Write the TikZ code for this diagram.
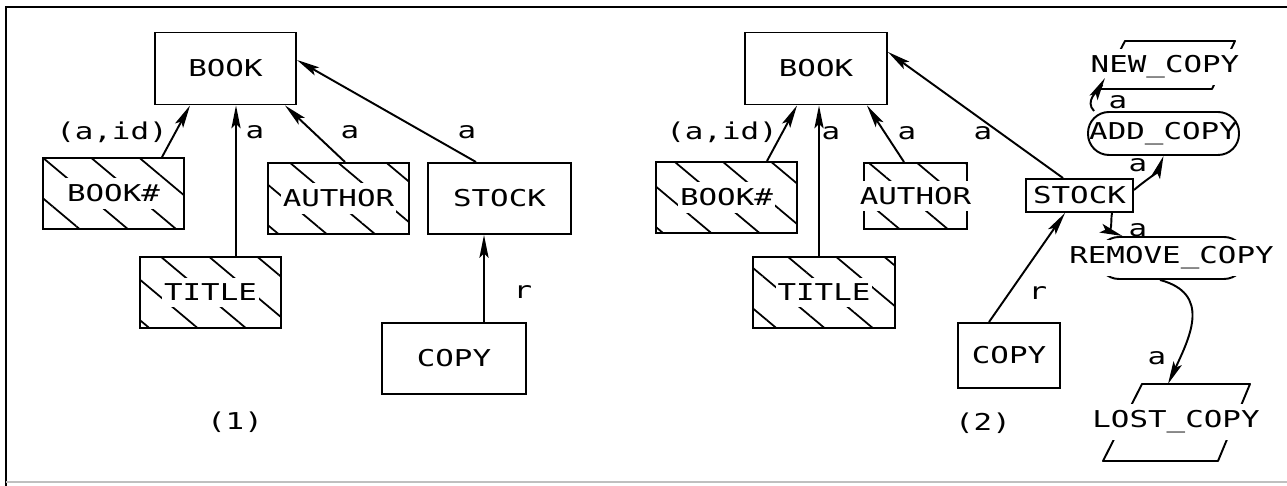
\documentclass[tikz,border=0pt]{standalone}
\usepackage{fontspec}
\newfontfamily\plotfont[FakeStretch=1.33]{DejaVu Sans Mono}
\usepackage{tikz}
\usetikzlibrary{arrows.meta,calc,backgrounds,patterns.meta}
\newcommand{\pfont}{\plotfont\fontsize{6.6}{7.5}\selectfont}
\tikzset{
  % plain entity box
  ebox/.style 2 args={rectangle, draw, line width=0.55pt, minimum width=#1, minimum height=#2,
                      inner sep=0pt, font=\pfont},
  % hatched entity box
  hbox/.style 2 args={ebox={#1}{#2}, pattern={Lines[angle=-40,distance=3.1mm,line width=0.5pt]}},
  % operation box (rounded ends)
  obox/.style 2 args={ebox={#1}{#2}, rounded corners=2.1mm},
  % outline of an event (parallelogram)
  pline/.style={line width=0.55pt, line join=round},
  % text that blanks what lies under it
  blank/.style={fill=white, inner xsep=0.5pt, inner ysep=1.8pt, font=\pfont},
  % edge label
  elabel/.style={font=\pfont, inner sep=1pt},
  % link arrow
  link/.style={-{Stealth[length=6.5pt,width=2.6pt,inset=1.3pt]}, line width=0.55pt},
}
\begin{document}
\begin{tikzpicture}
  \useasboundingbox (0,0) rectangle (12.87,-4.86);
  % frame
  \draw[line width=0.6pt] (0.06,-4.86) -- (0.06,-0.07) -- (12.87,-0.07);
  \draw[black!25, line width=0.4pt] (0.06,-4.82) -- (12.87,-4.82);

  % ---- (1) ----
  \node[ebox={1.41cm}{0.72cm}] (bookA) at (2.255,-0.685) {BOOK};
  \node[hbox={1.41cm}{0.71cm}, label={[blank]center:BOOK\#}] (bnumA) at (1.135,-1.935) {};
  \node[hbox={1.41cm}{0.71cm}, label={[blank]center:AUTHOR}] (authA) at (3.385,-1.985) {};
  \node[ebox={1.43cm}{0.71cm}] (stockA) at (4.995,-1.985) {STOCK};
  \node[hbox={1.41cm}{0.71cm}, label={[blank]center:TITLE}] (titleA) at (2.105,-2.925) {};
  \node[ebox={1.44cm}{0.71cm}] (copyA) at (4.54,-3.585) {COPY};
  \node[elabel] (capA) at (2.35,-4.22) {(1)};

  \draw[link] ([xshift=4.85mm]bnumA.north) -- ([xshift=-3.55mm]bookA.south);
  \draw[link] ([xshift=2.55mm]titleA.north) -- ([xshift=2.55mm]titleA.north |- bookA.south);
  \draw[link] ([xshift=0.65mm]authA.north) -- ([xshift=5.95mm]bookA.south);
  \draw[link] ([xshift=-2.35mm]stockA.north) -- ([yshift=0.85mm]bookA.east);
  \draw[link] ([xshift=3mm]copyA.north) -- ([xshift=3mm]copyA.north |- stockA.south);

  \node[elabel] (lidA) at (1.12,-1.32) {(a,id)};
  \node[elabel] (ltitA) at (2.55,-1.32) {a};
  \node[elabel] (lautA) at (3.50,-1.32) {a};
  \node[elabel] (lstoA) at (4.67,-1.32) {a};
  \node[elabel] (lcopA) at (5.23,-2.92) {r};

  % ---- (2) ----
  \node[ebox={1.42cm}{0.72cm}] (bookB) at (8.16,-0.685) {BOOK};
  \node[hbox={1.41cm}{0.71cm}, label={[blank]center:BOOK\#}] (bnumB) at (7.265,-1.975) {};
  \node[hbox={1.03cm}{0.66cm}, label={[blank]center:AUTHOR}] (authB) at (9.155,-1.96) {};
  \node[ebox={1.07cm}{0.33cm}] (stockB) at (10.795,-1.955) {STOCK};
  \node[hbox={1.42cm}{0.71cm}, label={[blank]center:TITLE}] (titleB) at (8.24,-2.925) {};
  \node[ebox={1.02cm}{0.65cm}] (copyB) at (10.09,-3.555) {COPY};
  \node[blank] (newB) at (11.65,-0.67) {NEW\_COPY};
  \node[obox={1.51cm}{0.43cm}] (addB) at (11.635,-1.335) {ADD\_COPY};
  \node[obox={1.47cm}{0.42cm}, label={[blank]center:REMOVE\_COPY}] (remB) at (11.715,-2.58) {};
  \node[blank] (lostB) at (11.76,-4.22) {LOST\_COPY};
  \node[elabel] (capB) at (9.83,-4.23) {(2)};
  \begin{scope}[on background layer]
    \draw[pline] ($(newB)+(-0.40,0.26)$) -- ($(newB)+(0.70,0.26)$)
      -- ($(newB)+(0.47,-0.22)$) -- ($(newB)+(-0.65,-0.22)$) -- cycle;
    \draw[pline] ($(lostB)+(-0.34,0.38)$) -- ($(lostB)+(0.74,0.38)$)
      -- ($(lostB)+(0.42,-0.39)$) -- ($(lostB)+(-0.73,-0.39)$) -- cycle;
  \end{scope}

  \draw[link] ([xshift=4.05mm]bnumB.north) -- ([xshift=-1.9mm]bookB.south);
  \draw[link] ([xshift=-0.5mm]titleB.north) -- ([xshift=-0.5mm]titleB.north |- bookB.south);
  \draw[link] ([xshift=-1.15mm]authB.north) -- ([xshift=5.1mm]bookB.south);
  \draw[link] ([xshift=-1.65mm]stockB.north) -- ([yshift=1.65mm]bookB.east);
  \draw[link] ([xshift=-2mm]copyB.north) -- ([xshift=-1.45mm]stockB.south);
  \draw[link] ([yshift=0.55mm]stockB.east) to[out=40, in=-110] (addB.south);
  \draw[link] ([xshift=0.7mm]addB.north west) to[out=135, in=-120] ($(newB)+(-0.60,-0.11)$);
  \draw[link] ([xshift=3.25mm]stockB.south) to[out=-100, in=160] ([xshift=-4.9mm]remB.north);
  \draw[link] ([xshift=-1.15mm]remB.south) to[out=-15, in=65, looseness=1.3]
    ($(lostB)+(-0.08,0.38)$);

  \node[elabel] (lidB) at (7.22,-1.32) {(a,id)};
  \node[elabel] (ltitB) at (8.31,-1.33) {a};
  \node[elabel] (lautB) at (9.07,-1.33) {a};
  \node[elabel] (lstoB) at (9.83,-1.33) {a};
  \node[elabel] (lcopB) at (10.38,-2.93) {r};
  \node[elabel] (laddB) at (11.38,-1.65) {a};
  \node[elabel] (lnewB) at (11.18,-1.02) {a};
  \node[elabel] (lremB) at (11.38,-2.30) {a};
  \node[elabel] (llosB) at (11.57,-3.58) {a};
\end{tikzpicture}
\end{document}
